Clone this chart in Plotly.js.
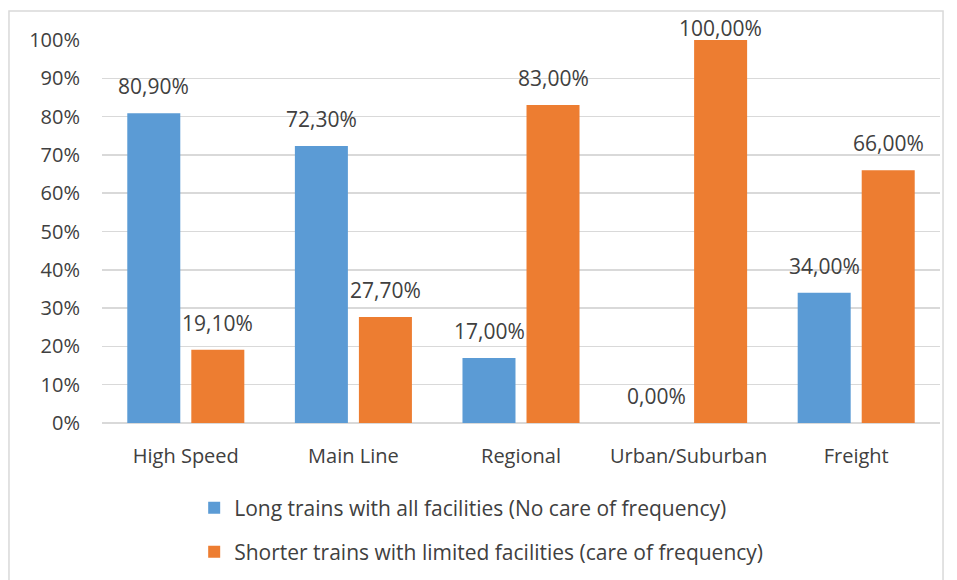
<!DOCTYPE html>
<html>
<head>
<meta charset="utf-8">
<script src="https://cdn.plot.ly/plotly-3.0.1.min.js"></script>
<style>html,body{margin:0;padding:0;background:#fff;}#chart{width:957px;height:580px;}</style>
</head>
<body>
<div id="chart"></div>
<script>
const categories = ["High Speed", "Main Line", "Regional", "Urban/Suburban", "Freight"];
const longTrains = [0.809, 0.723, 0.17, 0.0, 0.34];
const shorterTrains = [0.191, 0.277, 0.83, 1.0, 0.66];
const seriesNames = [
  "Long trains with all facilities (No care of frequency)",
  "Shorter trains with limited facilities (care of frequency)"
];
const yTicks = [0, 0.1, 0.2, 0.3, 0.4, 0.5, 0.6, 0.7, 0.8, 0.9, 1.0];

const FONT = "'Open Sans', sans-serif";
const TXT = "#404040";

const traces = [
  {
    type: "bar", x: categories, y: longTrains, name: seriesNames[0],
    marker: {color: "#5b9bd5"},
    legend: "legend"
  },
  {
    type: "bar", x: categories, y: shorterTrains, name: seriesNames[1],
    marker: {color: "#ed7d31"},
    legend: "legend2"
  }
];

// data labels built from the series arrays (offset to each bar of the group)
function fmt(v) { return (v * 100).toFixed(2).replace(".", ",") + "%"; }
const annotations = [];
[[longTrains, -32], [shorterTrains, 32]].forEach(function (pair) {
  const vals = pair[0], dx = pair[1];
  vals.forEach(function (v, i) {
    annotations.push({
      x: categories[i], y: v, xref: "x", yref: "y",
      text: fmt(v), showarrow: false,
      xanchor: "center", yanchor: "bottom",
      xshift: dx, yshift: v >= 0.99 ? -4 : 11,
      font: {family: FONT, size: 21, color: TXT}
    });
  });
});

const layout = {
  width: 957, height: 580,
  margin: {l: 102, r: 17, t: 40, b: 157, autoexpand: false},
  paper_bgcolor: "#fff", plot_bgcolor: "#fff",
  separators: ",.",
  font: {family: FONT, size: 20, color: TXT},
  barmode: "group", bargap: 0.236, bargroupgap: 0.172,
  xaxis: {
    showgrid: false, zeroline: false, showline: false, ticks: "",
    ticklabelstandoff: 19,
    tickfont: {family: FONT, size: 20, color: TXT}
  },
  yaxis: {
    range: [0, 1.0], tickvals: yTicks, tickformat: ".0%",
    showgrid: true, gridcolor: "#d9d9d9", gridwidth: 1.5,
    zeroline: true, zerolinecolor: "#d9d9d9", zerolinewidth: 1.5,
    showline: false, ticks: "", ticklabelstandoff: 21,
    tickfont: {family: FONT, size: 20, color: TXT}
  },
  showlegend: true,
  legend: {x: 0.110, xanchor: "left", y: -0.222, yanchor: "middle", orientation: "v",
    itemwidth: 30,
    font: {family: FONT, size: 21, color: TXT}, bgcolor: "rgba(0,0,0,0)"},
  legend2: {x: 0.110, xanchor: "left", y: -0.337, yanchor: "middle", orientation: "v",
    itemwidth: 30,
    font: {family: FONT, size: 21, color: TXT}, bgcolor: "rgba(0,0,0,0)"},
  annotations: annotations,
  shapes: [{
    type: "rect", xref: "paper", yref: "paper",
    x0: -0.111, x1: 1.0036, y0: -0.45, y1: 1.0757,
    line: {color: "#d9d9d9", width: 1.5}, fillcolor: "rgba(0,0,0,0)", layer: "below"
  }]
};

Plotly.newPlot("chart", traces, layout, {displayModeBar: false, staticPlot: true});
</script>
</body>
</html>
